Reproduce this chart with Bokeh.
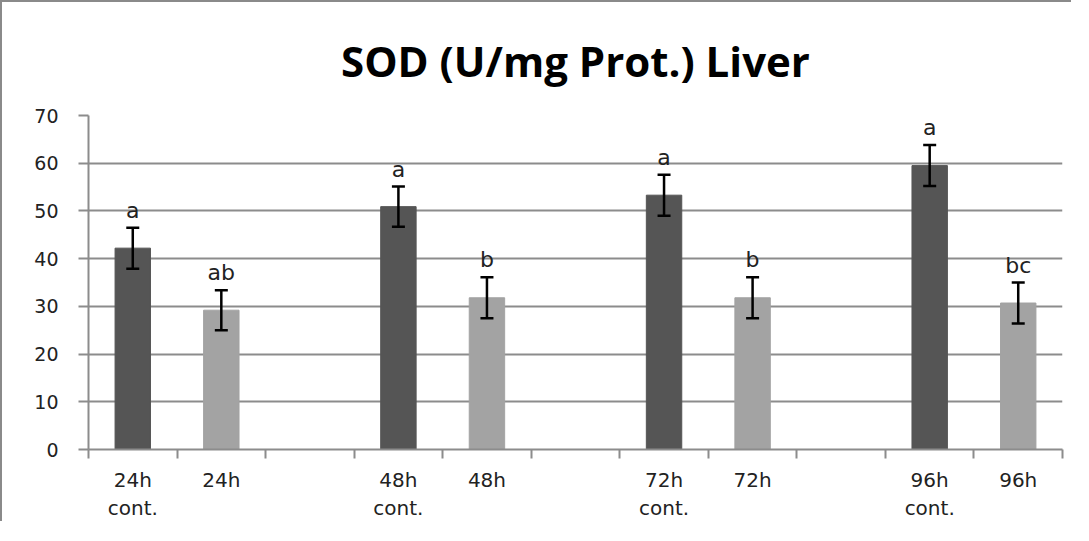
from bokeh.plotting import figure
from bokeh.models import FixedTicker, Whisker, ColumnDataSource, Range1d
from bokeh.embed import file_html
from bokeh.resources import INLINE
from bokeh.core.properties import value

# slots along the x axis (blank strings are empty gap slots)
slots = ["24h\ncont.", "24h", "", "48h\ncont.", "48h", "", "72h\ncont.", "72h", "", "96h\ncont.", "96h"]
groups = ["24h\ncont.", "24h", "48h\ncont.", "48h", "72h\ncont.", "72h", "96h\ncont.", "96h"]
means = [42.2, 29.2, 50.9, 31.8, 53.3, 31.8, 59.5, 30.7]
errors = [4.3, 4.2, 4.2, 4.3, 4.3, 4.3, 4.3, 4.3]
letters = ["a", "ab", "a", "b", "a", "b", "a", "bc"]
kinds = ["cont", "treat", "cont", "treat", "cont", "treat", "cont", "treat"]
y_ticks = [0, 10, 20, 30, 40, 50, 60, 70]
title_text = "SOD (U/mg Prot.) Liver"

colors = {"cont": "#555555", "treat": "#A3A3A3"}

xs = [slots.index(g) + 0.5 for g in groups]
src = ColumnDataSource(dict(
    x=xs, top=means,
    upper=[m + e for m, e in zip(means, errors)],
    lower=[m - e for m, e in zip(means, errors)],
    letter=letters,
    color=[colors[k] for k in kinds],
))

W, H = 1071, 521
p = figure(width=W, height=H, output_backend="svg", toolbar_location=None,
           x_range=Range1d(0, len(slots)), y_range=Range1d(0, 70),
           min_border_left=86, min_border_right=11, min_border_top=113, min_border_bottom=70)
p.styles = {"margin-left": "2px", "margin-top": "2px",
            "box-shadow": "-2px -2px 0 0 #8A8A8A"}

p.title.text = title_text
p.title.text_font = "Open Sans"
p.title.text_font_size = "42px"
p.title.text_font_style = "bold"
p.title.align = "center"
p.title.text_color = "#000000"
p.title.standoff = 53

p.outline_line_color = None
p.xgrid.visible = False
p.ygrid.grid_line_color = "#8C8C8C"
p.ygrid.grid_line_width = 2
p.ygrid.ticker = FixedTicker(ticks=y_ticks)

p.vbar(x="x", top="top", width=0.4, bottom=0, source=src, fill_color="color",
       line_color="color", line_width=1)

w = Whisker(base="x", upper="upper", lower="lower", source=src,
            line_color="black", line_width=2.5, level="overlay")
w.upper_head.size = 13
w.lower_head.size = 13
w.upper_head.line_width = 2.5
w.lower_head.line_width = 2.5
p.add_layout(w)

p.text(x="x", y="upper", text="letter", source=src, text_align="center",
       text_baseline="bottom", y_offset=-5, text_font=value("DejaVu Sans"),
       text_font_size="22px", text_color="#222222")

# y axis
ya = p.yaxis[0]
ya.ticker = FixedTicker(ticks=y_ticks)
ya.axis_line_color = "#8C8C8C"
ya.axis_line_width = 2
ya.major_tick_line_color = "#8C8C8C"
ya.major_tick_line_width = 2
ya.major_tick_out = 10
ya.major_tick_in = 0
ya.minor_tick_line_color = None
ya.major_label_text_font = "DejaVu Sans"
ya.major_label_text_font_size = "19px"
ya.major_label_text_color = "#222222"
ya.major_label_standoff = 20

# x axis
xa = p.xaxis[0]
centers = [i + 0.5 for i in range(len(slots))]
xa.ticker = FixedTicker(ticks=centers, minor_ticks=list(range(len(slots) + 1)))
xa.major_label_overrides = {c: s for c, s in zip(centers, slots)}
xa.axis_line_color = "#8C8C8C"
xa.axis_line_width = 2
xa.major_tick_line_color = None
xa.major_tick_out = 0
xa.minor_tick_line_color = "#8C8C8C"
xa.minor_tick_line_width = 2
xa.minor_tick_out = 9
xa.minor_tick_in = 0
xa.major_label_text_font = "DejaVu Sans"
xa.major_label_text_font_size = "20px"
xa.major_label_text_line_height = 1.2
xa.major_label_text_color = "#222222"
xa.major_label_standoff = 9

open("out.html", "w").write(file_html(p, INLINE))
